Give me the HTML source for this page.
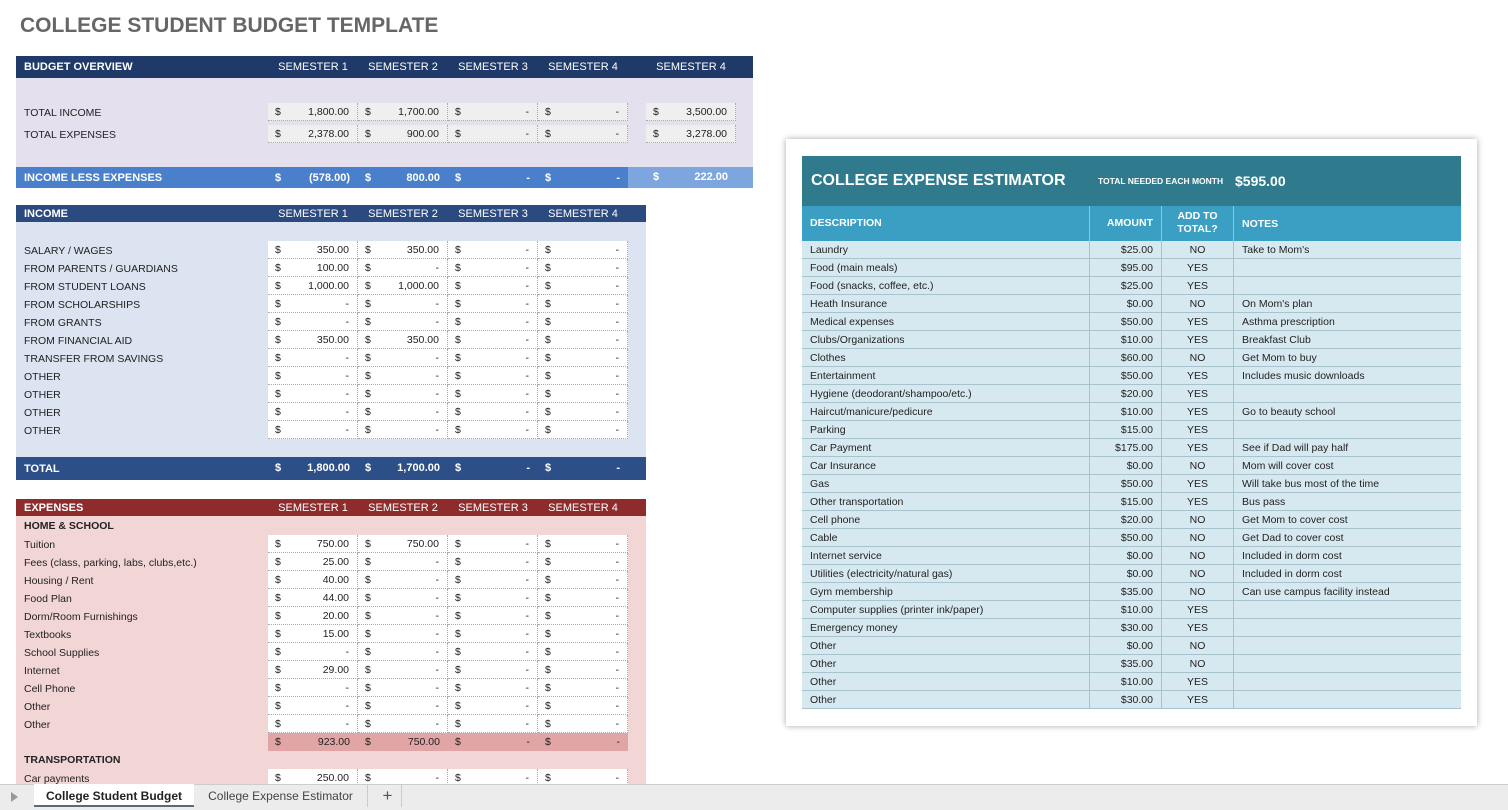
<!DOCTYPE html>
<html><head><meta charset="utf-8"><style>
*{margin:0;padding:0;box-sizing:border-box}
body{width:1508px;height:810px;background:#fff;position:relative;overflow:hidden;font-family:"Liberation Sans",sans-serif;font-size:11px;color:#222}
.a{position:absolute}
.hdr{position:absolute;color:#fff;font-size:11px;display:flex;align-items:center}
.hdr .t{width:252px;padding-left:8px;font-weight:bold}
.hdr .s{width:90px;text-align:center}
.r{position:absolute;left:16px;height:18px;display:flex;align-items:center}
.r .l{width:252px;padding-left:8px;font-size:10.5px;padding-top:2px}
.c{position:relative;width:90px;height:18px;background:#fff;border-right:1px dotted #aaa;border-bottom:1px dotted #aaa;font-size:10.5px;line-height:19px}
.c i{font-style:normal;position:absolute;left:7px}
.c b{font-weight:normal;position:absolute;right:8px}
.g .c{background:#efefef}
.k .c{background:#e2a5a5;border:none}
.bar{position:absolute;display:flex;align-items:center;color:#fff;font-weight:bold}
.bar .c{background:transparent;border:none;font-size:11px}
.bar .c b{font-weight:bold}
.est{position:absolute;left:802px;width:659px;height:18px;display:flex;background:#d7e9f0;border-bottom:1px solid #a9c3cc;font-size:10.5px;line-height:19px}
.est span{border-right:1px solid #a9c3cc;height:18px}
.est .d{width:288px;padding-left:8px}
.est .m{width:72px;text-align:right;padding-right:8px}
.est .y{width:72px;text-align:center}
.est .n{width:227px;padding-left:8px;border-right:none}
</style></head><body>
<div class="a" style="left:20px;top:14px;font-size:21px;font-weight:bold;color:#666">COLLEGE STUDENT BUDGET TEMPLATE</div>

<div class="a" style="left:16px;top:78px;width:737px;height:89px;background:#e4e0ee"></div>
<div class="hdr" style="left:16px;top:56px;width:737px;height:22px;background:#1f3a68"><span class="t">BUDGET OVERVIEW</span><span class="s">SEMESTER 1</span><span class="s">SEMESTER 2</span><span class="s">SEMESTER 3</span><span class="s">SEMESTER 4</span><span class="s" style="margin-left:18px">SEMESTER 4</span></div>
<div class="r g" style="top:103px"><span class="l">TOTAL INCOME</span><div class="c"><i>$</i><b>1,800.00</b></div><div class="c"><i>$</i><b>1,700.00</b></div><div class="c"><i>$</i><b>-</b></div><div class="c"><i>$</i><b>-</b></div><div class="c" style="margin-left:18px"><i>$</i><b>3,500.00</b></div></div>
<div class="r g" style="top:125px"><span class="l">TOTAL EXPENSES</span><div class="c"><i>$</i><b>2,378.00</b></div><div class="c"><i>$</i><b>900.00</b></div><div class="c"><i>$</i><b>-</b></div><div class="c"><i>$</i><b>-</b></div><div class="c" style="margin-left:18px"><i>$</i><b>3,278.00</b></div></div>
<div class="bar" style="left:16px;top:167px;width:737px;height:21px;background:#4a80cb"><span style="width:252px;padding-left:8px">INCOME LESS EXPENSES</span><div class="c"><i>$</i><b>(578.00)</b></div><div class="c"><i>$</i><b>800.00</b></div><div class="c"><i>$</i><b>-</b></div><div class="c"><i>$</i><b>-</b></div><div class="c" style="width:125px;height:21px;line-height:21px;background:#7ea6de"><i style="left:25px">$</i><b style="right:25px">222.00</b></div></div>

<div class="a" style="left:16px;top:222px;width:630px;height:235px;background:#dbe4f0"></div>
<div class="hdr" style="left:16px;top:205px;width:630px;height:17px;background:#2a4a80"><span class="t">INCOME</span><span class="s">SEMESTER 1</span><span class="s">SEMESTER 2</span><span class="s">SEMESTER 3</span><span class="s">SEMESTER 4</span></div>
<div class="r" style="top:241px"><span class="l">SALARY / WAGES</span><div class="c"><i>$</i><b>350.00</b></div><div class="c"><i>$</i><b>350.00</b></div><div class="c"><i>$</i><b>-</b></div><div class="c"><i>$</i><b>-</b></div></div>
<div class="r" style="top:259px"><span class="l">FROM PARENTS / GUARDIANS</span><div class="c"><i>$</i><b>100.00</b></div><div class="c"><i>$</i><b>-</b></div><div class="c"><i>$</i><b>-</b></div><div class="c"><i>$</i><b>-</b></div></div>
<div class="r" style="top:277px"><span class="l">FROM STUDENT LOANS</span><div class="c"><i>$</i><b>1,000.00</b></div><div class="c"><i>$</i><b>1,000.00</b></div><div class="c"><i>$</i><b>-</b></div><div class="c"><i>$</i><b>-</b></div></div>
<div class="r" style="top:295px"><span class="l">FROM SCHOLARSHIPS</span><div class="c"><i>$</i><b>-</b></div><div class="c"><i>$</i><b>-</b></div><div class="c"><i>$</i><b>-</b></div><div class="c"><i>$</i><b>-</b></div></div>
<div class="r" style="top:313px"><span class="l">FROM GRANTS</span><div class="c"><i>$</i><b>-</b></div><div class="c"><i>$</i><b>-</b></div><div class="c"><i>$</i><b>-</b></div><div class="c"><i>$</i><b>-</b></div></div>
<div class="r" style="top:331px"><span class="l">FROM FINANCIAL AID</span><div class="c"><i>$</i><b>350.00</b></div><div class="c"><i>$</i><b>350.00</b></div><div class="c"><i>$</i><b>-</b></div><div class="c"><i>$</i><b>-</b></div></div>
<div class="r" style="top:349px"><span class="l">TRANSFER FROM SAVINGS</span><div class="c"><i>$</i><b>-</b></div><div class="c"><i>$</i><b>-</b></div><div class="c"><i>$</i><b>-</b></div><div class="c"><i>$</i><b>-</b></div></div>
<div class="r" style="top:367px"><span class="l">OTHER</span><div class="c"><i>$</i><b>-</b></div><div class="c"><i>$</i><b>-</b></div><div class="c"><i>$</i><b>-</b></div><div class="c"><i>$</i><b>-</b></div></div>
<div class="r" style="top:385px"><span class="l">OTHER</span><div class="c"><i>$</i><b>-</b></div><div class="c"><i>$</i><b>-</b></div><div class="c"><i>$</i><b>-</b></div><div class="c"><i>$</i><b>-</b></div></div>
<div class="r" style="top:403px"><span class="l">OTHER</span><div class="c"><i>$</i><b>-</b></div><div class="c"><i>$</i><b>-</b></div><div class="c"><i>$</i><b>-</b></div><div class="c"><i>$</i><b>-</b></div></div>
<div class="r" style="top:421px"><span class="l">OTHER</span><div class="c"><i>$</i><b>-</b></div><div class="c"><i>$</i><b>-</b></div><div class="c"><i>$</i><b>-</b></div><div class="c"><i>$</i><b>-</b></div></div>
<div class="bar" style="left:16px;top:457px;width:630px;height:23px;background:#2c4f88"><span style="width:252px;padding-left:8px">TOTAL</span><div class="c" style="line-height:23px;height:23px"><i>$</i><b>1,800.00</b></div><div class="c" style="line-height:23px;height:23px"><i>$</i><b>1,700.00</b></div><div class="c" style="line-height:23px;height:23px"><i>$</i><b>-</b></div><div class="c" style="line-height:23px;height:23px"><i>$</i><b>-</b></div></div>

<div class="a" style="left:16px;top:516px;width:630px;height:270px;background:#f2d6d6"></div>
<div class="hdr" style="left:16px;top:499px;width:630px;height:17px;background:#8e2b2b"><span class="t">EXPENSES</span><span class="s">SEMESTER 1</span><span class="s">SEMESTER 2</span><span class="s">SEMESTER 3</span><span class="s">SEMESTER 4</span></div>
<div class="a" style="left:24px;top:520px;font-weight:bold;font-size:10.5px">HOME &amp; SCHOOL</div>
<div class="r" style="top:535px"><span class="l">Tuition</span><div class="c"><i>$</i><b>750.00</b></div><div class="c"><i>$</i><b>750.00</b></div><div class="c"><i>$</i><b>-</b></div><div class="c"><i>$</i><b>-</b></div></div>
<div class="r" style="top:553px"><span class="l">Fees (class, parking, labs, clubs,etc.)</span><div class="c"><i>$</i><b>25.00</b></div><div class="c"><i>$</i><b>-</b></div><div class="c"><i>$</i><b>-</b></div><div class="c"><i>$</i><b>-</b></div></div>
<div class="r" style="top:571px"><span class="l">Housing / Rent</span><div class="c"><i>$</i><b>40.00</b></div><div class="c"><i>$</i><b>-</b></div><div class="c"><i>$</i><b>-</b></div><div class="c"><i>$</i><b>-</b></div></div>
<div class="r" style="top:589px"><span class="l">Food Plan</span><div class="c"><i>$</i><b>44.00</b></div><div class="c"><i>$</i><b>-</b></div><div class="c"><i>$</i><b>-</b></div><div class="c"><i>$</i><b>-</b></div></div>
<div class="r" style="top:607px"><span class="l">Dorm/Room Furnishings</span><div class="c"><i>$</i><b>20.00</b></div><div class="c"><i>$</i><b>-</b></div><div class="c"><i>$</i><b>-</b></div><div class="c"><i>$</i><b>-</b></div></div>
<div class="r" style="top:625px"><span class="l">Textbooks</span><div class="c"><i>$</i><b>15.00</b></div><div class="c"><i>$</i><b>-</b></div><div class="c"><i>$</i><b>-</b></div><div class="c"><i>$</i><b>-</b></div></div>
<div class="r" style="top:643px"><span class="l">School Supplies</span><div class="c"><i>$</i><b>-</b></div><div class="c"><i>$</i><b>-</b></div><div class="c"><i>$</i><b>-</b></div><div class="c"><i>$</i><b>-</b></div></div>
<div class="r" style="top:661px"><span class="l">Internet</span><div class="c"><i>$</i><b>29.00</b></div><div class="c"><i>$</i><b>-</b></div><div class="c"><i>$</i><b>-</b></div><div class="c"><i>$</i><b>-</b></div></div>
<div class="r" style="top:679px"><span class="l">Cell Phone</span><div class="c"><i>$</i><b>-</b></div><div class="c"><i>$</i><b>-</b></div><div class="c"><i>$</i><b>-</b></div><div class="c"><i>$</i><b>-</b></div></div>
<div class="r" style="top:697px"><span class="l">Other</span><div class="c"><i>$</i><b>-</b></div><div class="c"><i>$</i><b>-</b></div><div class="c"><i>$</i><b>-</b></div><div class="c"><i>$</i><b>-</b></div></div>
<div class="r" style="top:715px"><span class="l">Other</span><div class="c"><i>$</i><b>-</b></div><div class="c"><i>$</i><b>-</b></div><div class="c"><i>$</i><b>-</b></div><div class="c"><i>$</i><b>-</b></div></div>
<div class="r k" style="top:733px"><span class="l"></span><div class="c"><i>$</i><b>923.00</b></div><div class="c"><i>$</i><b>750.00</b></div><div class="c"><i>$</i><b>-</b></div><div class="c"><i>$</i><b>-</b></div></div>
<div class="a" style="left:24px;top:754px;font-weight:bold;font-size:10.5px">TRANSPORTATION</div>
<div class="r" style="top:769px"><span class="l">Car payments</span><div class="c"><i>$</i><b>250.00</b></div><div class="c"><i>$</i><b>-</b></div><div class="c"><i>$</i><b>-</b></div><div class="c"><i>$</i><b>-</b></div></div>

<div class="a" style="left:786px;top:139px;width:691px;height:587px;background:#fff;box-shadow:0 0 6px rgba(0,0,0,.35)"></div>
<div class="a" style="left:802px;top:156px;width:659px;height:50px;background:#2f7b8d;color:#fff;display:flex;align-items:center">
<span style="width:296px;padding-left:9px;font-size:16px;font-weight:bold">COLLEGE EXPENSE ESTIMATOR</span>
<span style="font-size:8.5px;font-weight:bold;width:137px">TOTAL NEEDED EACH MONTH</span>
<span style="font-size:14px;font-weight:bold">$595.00</span></div>
<div class="a" style="left:802px;top:206px;width:659px;height:35px;background:#3a9fc2;color:#fff;font-weight:bold;font-size:10.5px;display:flex;align-items:center">
<span style="width:288px;padding-left:8px;border-right:1px solid #8cc7dc;height:35px;line-height:35px">DESCRIPTION</span>
<span style="width:72px;text-align:right;padding-right:8px;border-right:1px solid #8cc7dc;height:35px;line-height:35px">AMOUNT</span>
<span style="width:72px;text-align:center;border-right:1px solid #8cc7dc;height:35px;padding-top:4px;line-height:13px">ADD TO<br>TOTAL?</span>
<span style="padding-left:8px">NOTES</span></div>
<div class="est" style="top:241px"><span class="d">Laundry</span><span class="m">$25.00</span><span class="y">NO</span><span class="n">Take to Mom's</span></div>
<div class="est" style="top:259px"><span class="d">Food (main meals)</span><span class="m">$95.00</span><span class="y">YES</span><span class="n"></span></div>
<div class="est" style="top:277px"><span class="d">Food (snacks, coffee, etc.)</span><span class="m">$25.00</span><span class="y">YES</span><span class="n"></span></div>
<div class="est" style="top:295px"><span class="d">Heath Insurance</span><span class="m">$0.00</span><span class="y">NO</span><span class="n">On Mom's plan</span></div>
<div class="est" style="top:313px"><span class="d">Medical expenses</span><span class="m">$50.00</span><span class="y">YES</span><span class="n">Asthma prescription</span></div>
<div class="est" style="top:331px"><span class="d">Clubs/Organizations</span><span class="m">$10.00</span><span class="y">YES</span><span class="n">Breakfast Club</span></div>
<div class="est" style="top:349px"><span class="d">Clothes</span><span class="m">$60.00</span><span class="y">NO</span><span class="n">Get Mom to buy</span></div>
<div class="est" style="top:367px"><span class="d">Entertainment</span><span class="m">$50.00</span><span class="y">YES</span><span class="n">Includes music downloads</span></div>
<div class="est" style="top:385px"><span class="d">Hygiene (deodorant/shampoo/etc.)</span><span class="m">$20.00</span><span class="y">YES</span><span class="n"></span></div>
<div class="est" style="top:403px"><span class="d">Haircut/manicure/pedicure</span><span class="m">$10.00</span><span class="y">YES</span><span class="n">Go to beauty school</span></div>
<div class="est" style="top:421px"><span class="d">Parking</span><span class="m">$15.00</span><span class="y">YES</span><span class="n"></span></div>
<div class="est" style="top:439px"><span class="d">Car Payment</span><span class="m">$175.00</span><span class="y">YES</span><span class="n">See if Dad will pay half</span></div>
<div class="est" style="top:457px"><span class="d">Car Insurance</span><span class="m">$0.00</span><span class="y">NO</span><span class="n">Mom will cover cost</span></div>
<div class="est" style="top:475px"><span class="d">Gas</span><span class="m">$50.00</span><span class="y">YES</span><span class="n">Will take bus most of the time</span></div>
<div class="est" style="top:493px"><span class="d">Other transportation</span><span class="m">$15.00</span><span class="y">YES</span><span class="n">Bus pass</span></div>
<div class="est" style="top:511px"><span class="d">Cell phone</span><span class="m">$20.00</span><span class="y">NO</span><span class="n">Get Mom to cover cost</span></div>
<div class="est" style="top:529px"><span class="d">Cable</span><span class="m">$50.00</span><span class="y">NO</span><span class="n">Get Dad to cover cost</span></div>
<div class="est" style="top:547px"><span class="d">Internet service</span><span class="m">$0.00</span><span class="y">NO</span><span class="n">Included in dorm cost</span></div>
<div class="est" style="top:565px"><span class="d">Utilities (electricity/natural gas)</span><span class="m">$0.00</span><span class="y">NO</span><span class="n">Included in dorm cost</span></div>
<div class="est" style="top:583px"><span class="d">Gym membership</span><span class="m">$35.00</span><span class="y">NO</span><span class="n">Can use campus facility instead</span></div>
<div class="est" style="top:601px"><span class="d">Computer supplies (printer ink/paper)</span><span class="m">$10.00</span><span class="y">YES</span><span class="n"></span></div>
<div class="est" style="top:619px"><span class="d">Emergency money</span><span class="m">$30.00</span><span class="y">YES</span><span class="n"></span></div>
<div class="est" style="top:637px"><span class="d">Other</span><span class="m">$0.00</span><span class="y">NO</span><span class="n"></span></div>
<div class="est" style="top:655px"><span class="d">Other</span><span class="m">$35.00</span><span class="y">NO</span><span class="n"></span></div>
<div class="est" style="top:673px"><span class="d">Other</span><span class="m">$10.00</span><span class="y">YES</span><span class="n"></span></div>
<div class="est" style="top:691px"><span class="d">Other</span><span class="m">$30.00</span><span class="y">YES</span><span class="n"></span></div>

<div class="a" style="left:0;top:784px;width:1508px;height:26px;background:#ececec;border-top:1px solid #ccc"></div>
<div class="a" style="left:11px;top:792px;width:0;height:0;border-left:7px solid #999;border-top:5px solid transparent;border-bottom:5px solid transparent"></div>
<div class="a" style="left:34px;top:784px;width:160px;height:23px;background:#fff;font-weight:bold;font-size:12px;text-align:center;line-height:24px;color:#222;border-bottom:2px solid #5a6a7a">College Student Budget</div>
<div class="a" style="left:194px;top:785px;width:174px;height:22px;font-size:12px;text-align:center;line-height:23px;color:#444;border-right:1px solid #ccc">College Expense Estimator</div>
<div class="a" style="left:374px;top:785px;width:28px;height:22px;font-size:17px;text-align:center;line-height:22px;color:#555;border-right:1px solid #ccc">+</div>
</body></html>
